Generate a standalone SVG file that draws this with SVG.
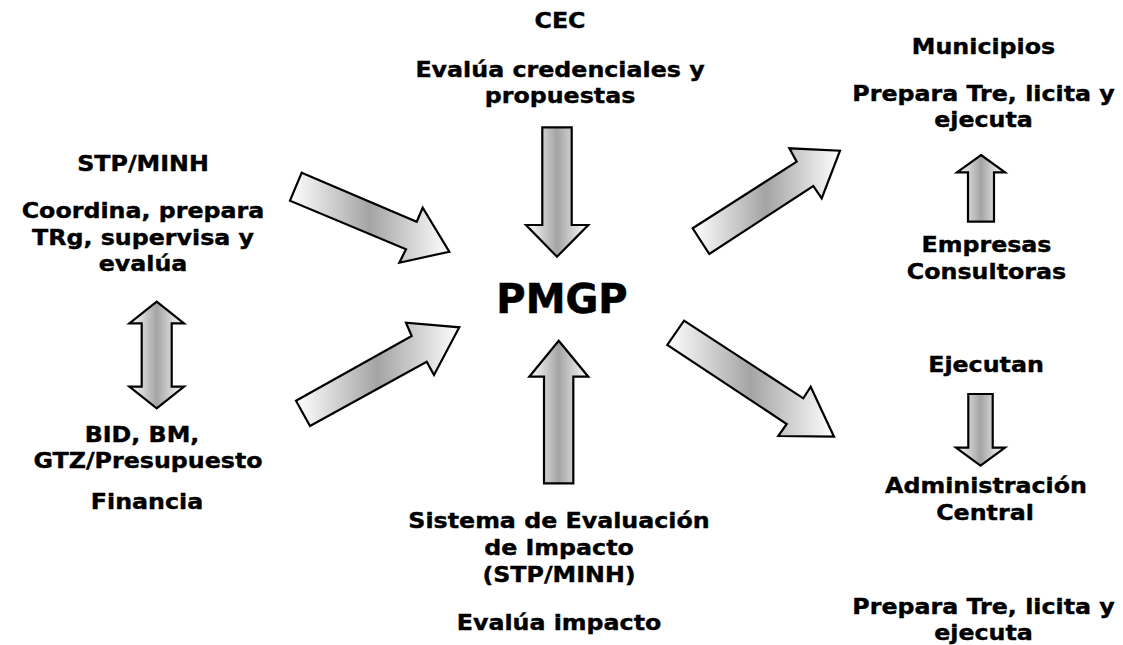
<svg xmlns="http://www.w3.org/2000/svg" width="1123" height="645" viewBox="0 0 1123 645">
<style>
.t{font-family:"DejaVu Sans",Verdana,sans-serif;font-weight:bold;font-size:22px;text-anchor:middle;fill:#000;stroke:#000;stroke-width:0.4}
.big{font-family:"DejaVu Sans",Verdana,sans-serif;font-weight:bold;font-size:40px;text-anchor:middle;fill:#000;stroke:#000;stroke-width:0.6}
.arr{fill:url(#g);stroke:#000;stroke-width:2.2;stroke-linejoin:miter}
</style>
<defs>
<linearGradient id="g" x1="0" y1="0" x2="1" y2="0">
<stop offset="0" stop-color="#ffffff"/>
<stop offset="0.5" stop-color="#a4a4a4"/>
<stop offset="1" stop-color="#ffffff"/>
</linearGradient>
</defs>
<rect width="1123" height="645" fill="#fff"/>

<g id="connectors">
<polygon class="arr" points="301.7,172.7 416.7,221.7 422.7,207.7 449.3,251.7 399.3,262.7 406,249.3 290,200.7"/>
<polygon class="arr" points="542.3,127.3 571.7,127.3 571.7,225 588.3,225 557,256.7 526,225 542.3,225"/>
<polygon class="arr" points="156.7,301.7 184,323.3 171.7,323.3 171.7,386.7 184,386.7 156.7,408.3 129.4,386.7 141.7,386.7 141.7,323.3 129.4,323.3"/>
<polygon class="arr" points="296,400.7 411.7,336 406,322.7 459.3,327.3 434,375 426.7,361.7 310,426"/>
<polygon class="arr" points="692.7,228.3 796.7,161.7 789.3,148.3 840,150.7 821.7,198.3 813.3,186 709.3,254"/>
<polygon class="arr" points="684,320.7 803.3,398.3 810.7,386.7 834,436.7 778.3,436 786.7,424 667.3,345"/>
<polygon class="arr" points="558.7,340.7 588.3,376.7 573.3,376.7 573.3,483.3 544,483.3 544,376.7 529.3,376.7"/>
<polygon class="arr" points="981,155 1005,172.3 994,172.3 994,221.7 968,221.7 968,172.3 957,172.3"/>
<polygon class="arr" points="968.3,394 992.7,394 992.7,447.7 1005,447.7 980.5,465.7 956,447.7 968.3,447.7"/>
</g>

<g id="pmgp">
<text class="big" x="562" y="313">PMGP</text>
</g>

<g id="stp">
<text class="t" transform="translate(143,171) scale(1.08,1)">STP/MINH</text>
<text class="t" transform="translate(143,218) scale(1.08,1)">Coordina, prepara</text>
<text class="t" transform="translate(143,245) scale(1.08,1)">TRg, supervisa y</text>
<text class="t" transform="translate(143,271) scale(1.08,1)">evalúa</text>
</g>

<g id="bid">
<text class="t" transform="translate(142,442) scale(1.08,1)">BID, BM,</text>
<text class="t" transform="translate(148,468) scale(1.08,1)">GTZ/Presupuesto</text>
<text class="t" transform="translate(147,509) scale(1.08,1)">Financia</text>
</g>

<g id="cec">
<text class="t" transform="translate(560,28) scale(1.08,1)">CEC</text>
<text class="t" transform="translate(560,77) scale(1.08,1)">Evalúa credenciales y</text>
<text class="t" transform="translate(560,103) scale(1.08,1)">propuestas</text>
</g>

<g id="sistema">
<text class="t" transform="translate(559,528) scale(1.08,1)">Sistema de Evaluación</text>
<text class="t" transform="translate(559,555) scale(1.08,1)">de Impacto</text>
<text class="t" transform="translate(559,582) scale(1.08,1)">(STP/MINH)</text>
<text class="t" transform="translate(559,630) scale(1.08,1)">Evalúa impacto</text>
</g>

<g id="municipios">
<text class="t" transform="translate(983.5,54) scale(1.08,1)">Municipios</text>
<text class="t" transform="translate(983.5,101) scale(1.08,1)">Prepara Tre, licita y</text>
<text class="t" transform="translate(983.5,127) scale(1.08,1)">ejecuta</text>
</g>

<g id="empresas">
<text class="t" transform="translate(986.5,251.7) scale(1.08,1)">Empresas</text>
<text class="t" transform="translate(986.5,279) scale(1.08,1)">Consultoras</text>
</g>

<g id="ejecutan">
<text class="t" transform="translate(986,372) scale(1.08,1)">Ejecutan</text>
</g>

<g id="admin">
<text class="t" transform="translate(986,493) scale(1.08,1)">Administración</text>
<text class="t" transform="translate(985,520) scale(1.08,1)">Central</text>
<text class="t" transform="translate(983.5,614) scale(1.08,1)">Prepara Tre, licita y</text>
<text class="t" transform="translate(983.5,640) scale(1.08,1)">ejecuta</text>
</g>
</svg>
